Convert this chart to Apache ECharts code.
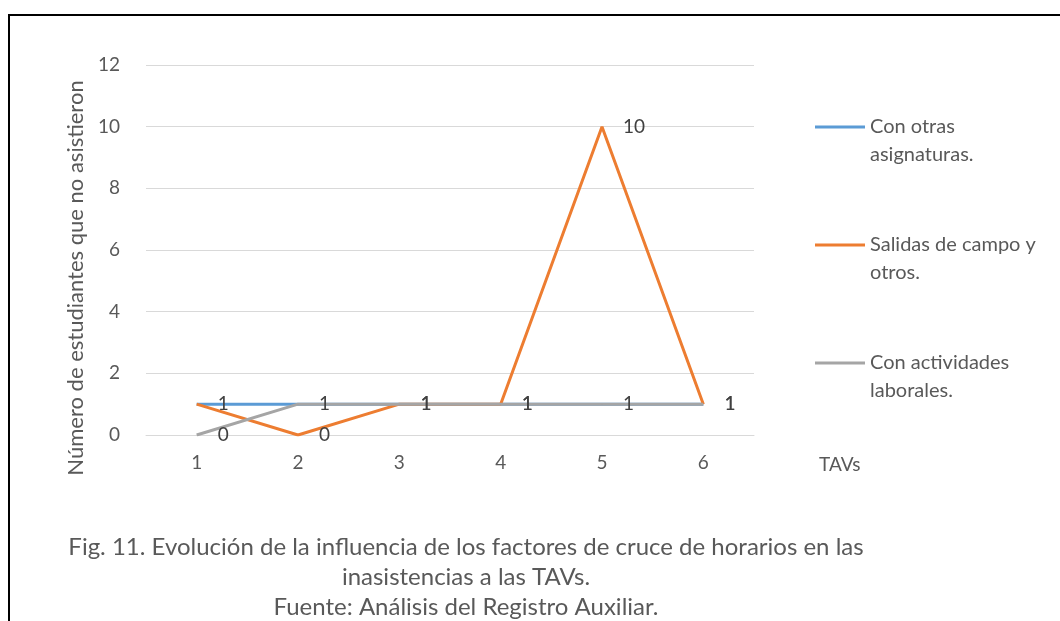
<!DOCTYPE html>
<html>
<head>
<meta charset="utf-8">
<script src="https://cdn.jsdelivr.net/npm/echarts@6/dist/echarts.min.js"></script>
<style>
html,body{margin:0;padding:0;background:#fff;}
#chart{width:1060px;height:621px;}
</style>
</head>
<body>
<div id="chart"></div>
<script>
const categories = ['1', '2', '3', '4', '5', '6'];
const seriesNames = ['Con otras\nasignaturas.', 'Salidas de campo y\notros.', 'Con actividades\nlaborales.'];
const otrasAsignaturas = [1, 1, 1, 1, 1, 1];
const salidasCampo = [1, 0, 1, 1, 10, 1];
const actividadesLaborales = [0, 1, 1, 1, 1, 1];
const yTicks = { min: 0, max: 12, interval: 2 };
const yAxisName = 'Número de estudiantes que no asistieron';
const xAxisName = 'TAVs';
const caption = 'Fig. 11. Evolución de la influencia de los factores de cruce de horarios en las\ninasistencias a las TAVs.\nFuente: Análisis del Registro Auxiliar.';

const FONT = 'Lato, "Open Sans", sans-serif';
const colors = ['#5B9BD5', '#ED7D31', '#A5A5A5'];

const chart = echarts.init(document.getElementById('chart'), null, { renderer: 'canvas' });

function lineSeries(name, data, color, showLabel) {
  return {
    name: name,
    type: 'line',
    data: data,
    symbol: 'circle',
    symbolSize: 0.1,
    showSymbol: true,
    lineStyle: { width: 3, color: color },
    itemStyle: { color: color },
    label: {
      show: showLabel,
      position: 'right',
      distance: 21,
      color: '#404040',
      fontSize: 19,
      fontFamily: FONT
    },
    labelLayout: { hideOverlap: false },
    animation: false
  };
}

chart.setOption({
  animation: false,
  color: colors,
  textStyle: { fontFamily: FONT },
  title: {
    text: caption,
    left: 466,
    top: 532,
    padding: 0,
    textAlign: 'center',
    textStyle: {
      fontFamily: FONT,
      fontSize: 24,
      fontWeight: 'normal',
      color: '#595959',
      lineHeight: 30
    }
  },
  legend: {
    orient: 'vertical',
    left: 810,
    top: 80,
    itemGap: 34,
    itemWidth: 50,
    itemHeight: 3,
    icon: 'rect',
    formatter: function (name) { return '\n' + name; },
    textStyle: {
      fontFamily: FONT,
      fontSize: 20,
      color: '#595959',
      lineHeight: 28
    },
    data: seriesNames
  },
  grid: { left: 146, right: 306, top: 65, bottom: 186, containLabel: false },
  xAxis: {
    type: 'category',
    data: categories,
    boundaryGap: true,
    name: xAxisName,
    nameLocation: 'end',
    nameGap: 65,
    nameTextStyle: { fontFamily: FONT, fontSize: 19, color: '#595959', verticalAlign: 'top', padding: [20, 0, 0, 0] },
    axisLine: { lineStyle: { color: '#D9D9D9', width: 1 } },
    axisTick: { show: false },
    axisLabel: { color: '#595959', fontSize: 19, fontFamily: FONT, margin: 18 },
    splitLine: { show: false }
  },
  yAxis: {
    type: 'value',
    min: yTicks.min,
    max: yTicks.max,
    interval: yTicks.interval,
    name: yAxisName,
    nameLocation: 'middle',
    nameGap: 58,
    nameRotate: 90,
    nameTextStyle: { fontFamily: FONT, fontSize: 22, color: '#595959', padding: [0, 56, 0, 0] },
    axisLine: { show: false },
    axisTick: { show: false },
    axisLabel: { color: '#595959', fontSize: 19, fontFamily: FONT, margin: 26 },
    splitLine: { lineStyle: { color: '#D9D9D9', width: 1 } }
  },
  series: [
    lineSeries(seriesNames[0], otrasAsignaturas, colors[0], false),
    lineSeries(seriesNames[1], salidasCampo, colors[1], true),
    lineSeries(seriesNames[2], actividadesLaborales, colors[2], true)
  ],
  graphic: [
    { type: 'line', shape: { x1: 8, y1: 15, x2: 1060, y2: 15 }, style: { stroke: '#000', lineWidth: 2 }, silent: true },
    { type: 'line', shape: { x1: 9, y1: 14, x2: 9, y2: 621 }, style: { stroke: '#000', lineWidth: 2 }, silent: true }
  ]
});
</script>
</body>
</html>
